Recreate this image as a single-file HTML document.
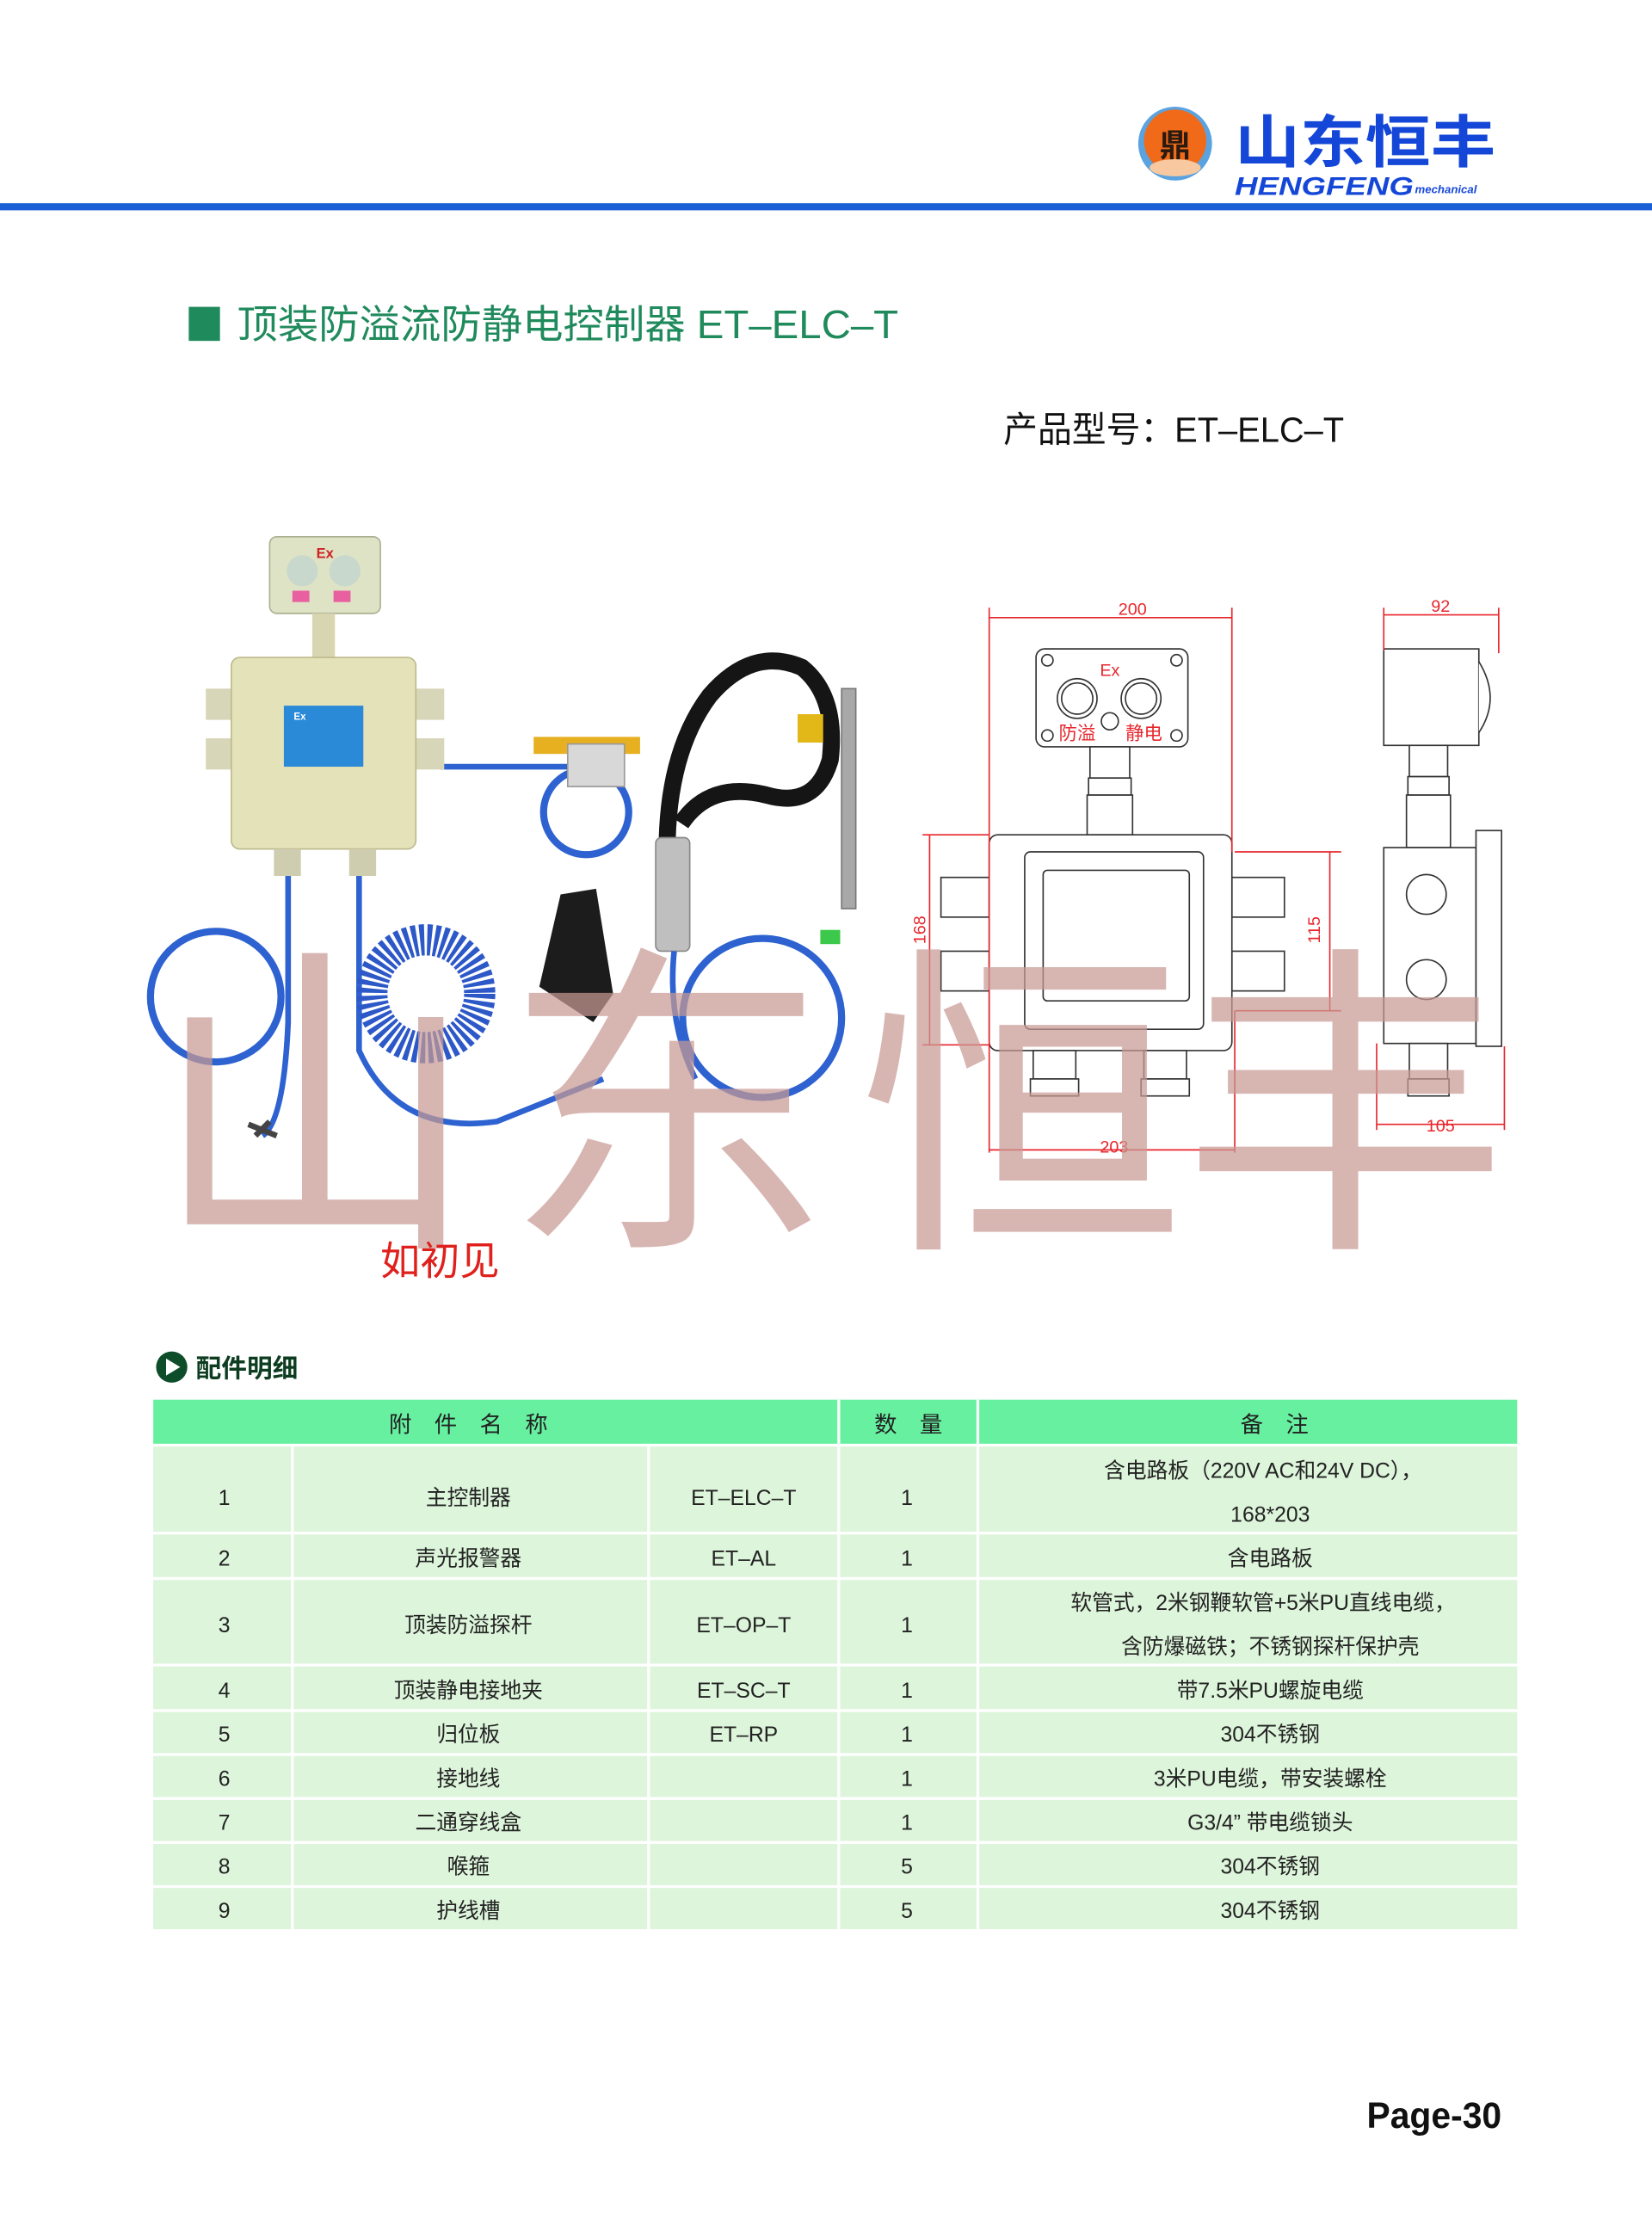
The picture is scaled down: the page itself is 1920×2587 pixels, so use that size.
<!DOCTYPE html>
<html><head><meta charset="utf-8"><style>
html,body{margin:0;padding:0;background:#fff;}
svg{display:block;}
text{font-family:"Liberation Sans","Noto Sans CJK SC",sans-serif;}
</style></head><body>
<svg width="1920" height="2587" viewBox="0 0 1164 1568" xmlns="http://www.w3.org/2000/svg">
<rect width="1164" height="1568" fill="#fff"/>
<rect x="0" y="143" width="1164" height="5" fill="#1a5fd6"/>
<circle cx="828" cy="101" r="26" fill="#5aa3e0"/>
<circle cx="828" cy="99" r="22" fill="#f06a1a"/>
<ellipse cx="828" cy="118" rx="18" ry="6" fill="#f8c9a0"/>
<text x="828" y="110" font-size="22" font-weight="bold" text-anchor="middle" fill="#2a1a10">鼎</text>
<text x="870" y="114" font-size="40" font-weight="bold" fill="#1447d8" textLength="184" lengthAdjust="spacingAndGlyphs">山东恒丰</text>
<text x="870" y="137" font-size="18" font-weight="bold" font-style="italic" fill="#1447d8" textLength="126" lengthAdjust="spacingAndGlyphs">HENGFENG</text>
<text x="997" y="136" font-size="8" font-weight="bold" font-style="italic" fill="#1447d8">mechanical</text>
<rect x="133" y="216" width="22" height="24" fill="#1f8a5c"/>
<text x="167" y="238" font-size="28" fill="#1f8a5c" textLength="466" lengthAdjust="spacingAndGlyphs">顶装防溢流防静电控制器 ET–ELC–T</text>
<text x="707" y="311" font-size="25" fill="#111" textLength="240" lengthAdjust="spacingAndGlyphs">产品型号：ET–ELC–T</text>

<g>
<path d="M203 617 L203 720 Q200 790 185 800" stroke="#2d62d0" stroke-width="4" fill="none"/>
<circle cx="152" cy="702" r="46" stroke="#2d62d0" stroke-width="5" fill="none"/>
<path d="M175 792 l20 8 M180 800 l10 -10" stroke="#444" stroke-width="4"/>
<path d="M253 617 L253 740 Q280 800 350 790 L425 760" stroke="#2d62d0" stroke-width="4" fill="none"/>
<circle cx="300" cy="700" r="38" stroke="#2d58c8" stroke-width="22" stroke-dasharray="3 2" fill="none"/>
<path d="M310 540 L405 540" stroke="#2d62d0" stroke-width="4"/>
<circle cx="413" cy="572" r="30" stroke="#2d62d0" stroke-width="5" fill="none"/>
<rect x="376" y="519" width="75" height="12" fill="#e6b020"/>
<rect x="400" y="524" width="40" height="30" fill="#d8d8d8" stroke="#999"/>
<path d="M470 600 Q470 530 500 490 Q530 455 565 470 Q590 490 585 535 Q575 570 540 560 Q500 550 480 580" stroke="#151515" stroke-width="12" fill="none"/>
<rect x="593" y="485" width="10" height="155" fill="#a8a8a8" stroke="#777"/>
<rect x="562" y="503" width="18" height="20" fill="#e2b818"/>
<rect x="462" y="590" width="24" height="80" rx="4" fill="#bfbfbf" stroke="#888"/>
<circle cx="537" cy="717" r="56" stroke="#2d62d0" stroke-width="5" fill="none"/>
<path d="M475 670 Q470 720 490 760" stroke="#2d62d0" stroke-width="4" fill="none"/>
<rect x="578" y="655" width="14" height="10" fill="#3cc84a"/>
<path d="M395 630 L420 626 L432 700 L418 720 L380 695 Z" fill="#1c1c1c"/>
<rect x="190" y="378" width="78" height="54" rx="5" fill="#dfe3c6" stroke="#aab090"/>
<circle cx="213" cy="402" r="11" fill="#c8d8cc"/><circle cx="243" cy="402" r="11" fill="#c8d8cc"/>
<text x="229" y="393" font-size="10" font-weight="bold" fill="#d02020" text-anchor="middle">Ex</text>
<rect x="206" y="416" width="12" height="8" fill="#e860a0"/><rect x="235" y="416" width="12" height="8" fill="#e860a0"/>
<rect x="220" y="432" width="16" height="31" fill="#d8d6b0"/>
<rect x="145" y="485" width="25" height="22" fill="#d8d6b8"/><rect x="145" y="520" width="25" height="22" fill="#d8d6b8"/>
<rect x="288" y="485" width="25" height="22" fill="#d8d6b8"/><rect x="288" y="520" width="25" height="22" fill="#d8d6b8"/>
<rect x="163" y="463" width="130" height="135" rx="6" fill="#e4e2b8" stroke="#bdb98c"/>
<rect x="200" y="497" width="56" height="43" fill="#2a8ad8"/>
<text x="207" y="507" font-size="7" fill="#fff" font-weight="bold">Ex</text>
<rect x="193" y="598" width="19" height="19" fill="#cfcdb0"/><rect x="246" y="598" width="19" height="19" fill="#cfcdb0"/>
</g>

<g stroke="#333" stroke-width="1" fill="#fff">
<rect x="730" y="457" width="107" height="69" rx="6"/>
<circle cx="759" cy="492" r="14"/><circle cx="759" cy="492" r="11"/>
<circle cx="804" cy="492" r="14"/><circle cx="804" cy="492" r="11"/>
<circle cx="782" cy="508" r="6"/>
<circle cx="738" cy="465" r="4"/><circle cx="829" cy="465" r="4"/><circle cx="738" cy="518" r="4"/><circle cx="829" cy="518" r="4"/>
<rect x="768" y="526" width="28" height="22"/><rect x="767" y="548" width="30" height="12"/><rect x="766" y="560" width="32" height="28"/>
<rect x="663" y="618" width="34" height="28"/><rect x="663" y="670" width="34" height="28"/>
<rect x="868" y="618" width="37" height="28"/><rect x="868" y="670" width="37" height="28"/>
<rect x="697" y="588" width="171" height="152" rx="6"/>
<rect x="722" y="600" width="126" height="125" rx="4"/>
<rect x="735" y="613" width="103" height="92" rx="3"/>
<rect x="728" y="740" width="30" height="20"/><rect x="726" y="760" width="34" height="12"/>
<rect x="806" y="740" width="30" height="20"/><rect x="804" y="760" width="34" height="12"/>
<rect x="975" y="457" width="67" height="68"/>
<path d="M1042 466 Q1058 492 1042 516" />
<rect x="993" y="525" width="27" height="22"/><rect x="992" y="547" width="29" height="13"/><rect x="991" y="560" width="31" height="37"/>
<rect x="975" y="597" width="65" height="138"/>
<rect x="1040" y="585" width="18" height="152"/>
<circle cx="1005" cy="630" r="14"/><circle cx="1005" cy="690" r="14"/>
<rect x="993" y="735" width="27" height="25"/><rect x="992" y="760" width="29" height="12"/>
</g>
<text x="782" y="476" font-size="12" fill="#e8262c" text-anchor="middle">Ex</text>
<text x="759" y="521" font-size="13" fill="#e8262c" text-anchor="middle">防溢</text>
<text x="806" y="521" font-size="13" fill="#e8262c" text-anchor="middle">静电</text>
<g stroke="#e8262c" stroke-width="1" fill="none">
<path d="M697 428 V740 M868 428 V600 M697 435 H868"/>
<path d="M655 588 V736 M650 588 H697 M650 736 H697"/>
<path d="M937 600 V712 M870 600 H945 M870 712 H945"/>
<path d="M697 740 V812 M870 712 V812 M697 810 H870"/>
<path d="M975 428 V458 M1056 428 V460 M975 433 H1056"/>
<path d="M970 735 V796 M1060 737 V796 M970 792 H1060"/>
</g>
<g font-size="12" fill="#e8262c" text-anchor="middle">
<text x="798" y="433">200</text><text x="1015" y="431">92</text>
<text x="785" y="812">203</text><text x="1015" y="797">105</text>
<text transform="translate(652,655) rotate(-90)">168</text>
<text transform="translate(930,655) rotate(-90)">115</text>
</g>

<g font-size="230" fill="#c89a94" fill-opacity="0.72" text-anchor="middle">
<text x="222" y="862">山</text><text x="470" y="862">东</text><text x="720" y="862">恒</text><text x="948" y="862">丰</text>
</g>
<text x="268" y="898" font-size="28" fill="#e0201c">如初见</text>

<circle cx="121" cy="963" r="11" fill="#0d4d2a"/>
<path d="M117 957 L127 963 L117 969 Z" fill="#fff"/>
<text x="138" y="970" font-size="18" font-weight="bold" fill="#0d3d20">配件明细</text>

<rect x="108" y="986" width="961" height="32" fill="#67f0a0"/>
<rect x="108" y="1018" width="961" height="341" fill="#ddf5db"/>
<g stroke="#fff" stroke-width="2">
<path d="M591 986 V1359 M689 986 V1359 M206 1018 V1359 M457 1018 V1359"/>
<path d="M108 1018 H1069 M108 1080 H1069 M108 1112 H1069 M108 1173 H1069 M108 1205 H1069 M108 1236 H1069 M108 1267 H1069 M108 1298 H1069 M108 1329 H1069"/>
</g>
<g font-size="16" fill="#222" text-anchor="middle">
<text x="330" y="1009">附　件　名　称</text><text x="640" y="1009">数　量</text><text x="898" y="1009">备　注</text>
</g>
<g font-size="15" fill="#222" text-anchor="middle">
<text x="158" y="1060">1</text><text x="330" y="1060">主控制器</text><text x="524" y="1060">ET–ELC–T</text><text x="639" y="1060">1</text>
<text x="890" y="1041">含电路板（220V AC和24V DC），</text><text x="895" y="1072">168*203</text>
<text x="158" y="1103">2</text><text x="330" y="1103">声光报警器</text><text x="524" y="1103">ET–AL</text><text x="639" y="1103">1</text><text x="895" y="1103">含电路板</text>
<text x="158" y="1150">3</text><text x="330" y="1150">顶装防溢探杆</text><text x="524" y="1150">ET–OP–T</text><text x="639" y="1150">1</text>
<text x="890" y="1134">软管式，2米钢鞭软管+5米PU直线电缆，</text><text x="895" y="1165">含防爆磁铁；不锈钢探杆保护壳</text>
<text x="158" y="1196">4</text><text x="330" y="1196">顶装静电接地夹</text><text x="524" y="1196">ET–SC–T</text><text x="639" y="1196">1</text><text x="895" y="1196">带7.5米PU螺旋电缆</text>
<text x="158" y="1227">5</text><text x="330" y="1227">归位板</text><text x="524" y="1227">ET–RP</text><text x="639" y="1227">1</text><text x="895" y="1227">304不锈钢</text>
<text x="158" y="1258">6</text><text x="330" y="1258">接地线</text><text x="639" y="1258">1</text><text x="895" y="1258">3米PU电缆，带安装螺栓</text>
<text x="158" y="1289">7</text><text x="330" y="1289">二通穿线盒</text><text x="639" y="1289">1</text><text x="895" y="1289">G3/4”  带电缆锁头</text>
<text x="158" y="1320">8</text><text x="330" y="1320">喉箍</text><text x="639" y="1320">5</text><text x="895" y="1320">304不锈钢</text>
<text x="158" y="1351">9</text><text x="330" y="1351">护线槽</text><text x="639" y="1351">5</text><text x="895" y="1351">304不锈钢</text>
</g>
<text x="963" y="1499" font-size="26" font-weight="bold" fill="#111" textLength="95" lengthAdjust="spacingAndGlyphs">Page-30</text>
</svg>
</body></html>
